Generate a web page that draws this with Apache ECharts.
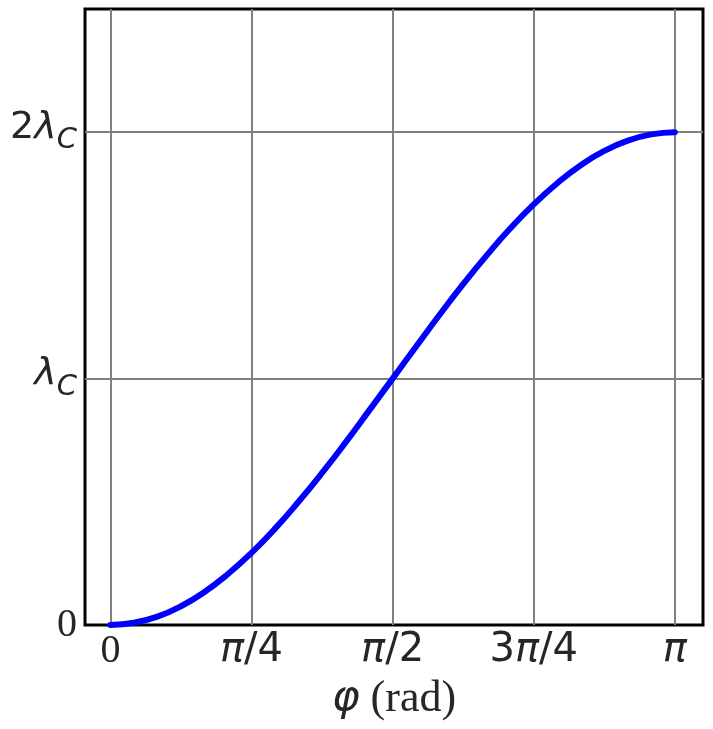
<!DOCTYPE html>
<html>
<head>
<meta charset="utf-8">
<script src="https://cdn.jsdelivr.net/npm/echarts@6/dist/echarts.min.js"></script>
<style>
  html, body { margin: 0; padding: 0; background: #fff; }
  #chart { width: 713px; height: 729px; }
</style>
</head>
<body>
<div id="chart"></div>
<script>
// phi in units of pi, shift in units of lambda_C
const phi = [0, 0.0417, 0.0833, 0.125, 0.1667, 0.2083, 0.25, 0.2917, 0.3333, 0.375, 0.4167, 0.4583,
  0.5, 0.5417, 0.5833, 0.625, 0.6667, 0.7083, 0.75, 0.7917, 0.8333, 0.875, 0.9167, 0.9583, 1];
const shift = [0, 0.009, 0.034, 0.076, 0.134, 0.207, 0.293, 0.391, 0.5, 0.617, 0.741, 0.870,
  1.0, 1.130, 1.259, 1.383, 1.5, 1.609, 1.707, 1.793, 1.866, 1.924, 1.966, 1.991, 2.0];
const xTicks = [0, 0.25, 0.5, 0.75, 1];
const xTickLabels = ["{s|0}", "{i|π}{r|/4}", "{i|π}{r|/2}", "{r|3}{i|π}{r|/4}", "{i|π}"];
const yTickLabels = { 0: "{s|0}", 1: "{i|λ}{sub|C}", 2: "{r|2}{i|λ}{sub|C}" };

let textColor = "#262626";
let mathFont = "DejaVu Sans";
let serifFont = "Liberation Serif";

const chart = echarts.init(document.getElementById("chart"));
chart.setOption({
  animation: false,
  grid: {
    left: 85, right: 10, top: 9, bottom: 104,
    show: true, borderColor: "#000", borderWidth: 3, backgroundColor: "transparent"
  },
  xAxis: {
    type: "value",
    min: -0.045,
    max: 1.05,
    axisLine: { show: false },
    axisTick: { show: false, customValues: xTicks },
    splitLine: { show: true, showMinLine: true, showMaxLine: true, lineStyle: { color: "#808080", width: 2 } },
    axisLabel: {
      customValues: xTicks,
      margin: 6,
      formatter: (v) => xTickLabels[xTicks.indexOf(v)],
      rich: {
        s: { fontFamily: serifFont, fontSize: 40, color: textColor },
        i: { fontFamily: mathFont, fontStyle: "italic", fontSize: 40, color: textColor },
        r: { fontFamily: mathFont, fontSize: 40, color: textColor }
      }
    },
    name: "{m|φ}{s| (rad)}",
    nameLocation: "middle",
    nameGap: 52,
    nameTextStyle: {
      rich: {
        s: { fontFamily: serifFont, fontSize: 44, color: textColor },
        m: { fontFamily: mathFont, fontStyle: "italic", fontSize: 42, color: textColor }
      }
    }
  },
  yAxis: {
    type: "value",
    min: 0,
    max: 2.5,
    interval: 1,
    axisLine: { show: false },
    axisTick: { show: false },
    splitLine: { show: true, showMinLine: false, showMaxLine: false, lineStyle: { color: "#808080", width: 2 } },
    axisLabel: {
      margin: 8,
      formatter: (v) => yTickLabels[v] || "",
      rich: {
        s: { fontFamily: serifFont, fontSize: 40, color: textColor },
        i: { fontFamily: mathFont, fontStyle: "italic", fontSize: 38, color: textColor,
             verticalAlign: "bottom", padding: [0, 0, 8, 0] },
        r: { fontFamily: mathFont, fontSize: 38, color: textColor,
             verticalAlign: "bottom", padding: [0, 0, 8, 0] },
        sub: { fontFamily: mathFont, fontStyle: "italic", fontSize: 29, color: textColor,
               verticalAlign: "bottom" }
      }
    }
  },
  series: [
    {
      type: "line",
      data: phi.map((p, i) => [p, shift[i]]),
      smooth: true,
      showSymbol: false,
      lineStyle: { color: "#0000ff", width: 6, cap: "round" }
    }
  ]
});
</script>
</body>
</html>
